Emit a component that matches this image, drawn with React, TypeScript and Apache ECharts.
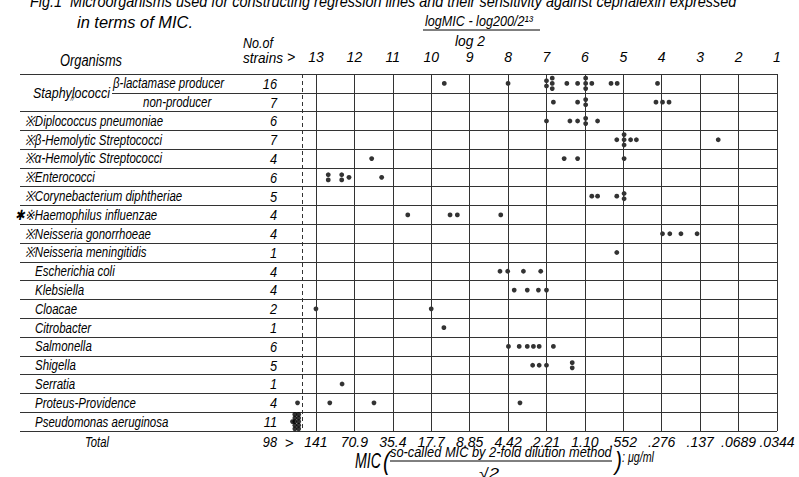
import React, { useEffect, useRef } from 'react';
import * as echarts from 'echarts';

const FONT = "'Liberation Sans', Arimo, sans-serif";
const INK = '#000';
const LINE = '#333';

// Row labels (top to bottom)
const organisms = [
  'β-lactamase producer',
  'non-producer',
  '※Diplococcus pneumoniae',
  '※β-Hemolytic Streptococci',
  '※α-Hemolytic Streptococci',
  '※Enterococci',
  '※Corynebacterium diphtheriae',
  '✱※Haemophilus influenzae',
  '※Neisseria gonorrhoeae',
  '※Neisseria meningitidis',
  'Escherichia coli',
  'Klebsiella',
  'Cloacae',
  'Citrobacter',
  'Salmonella',
  'Shigella',
  'Serratia',
  'Proteus-Providence',
  'Pseudomonas aeruginosa',
];
const strainCounts = [16, 7, 6, 7, 4, 6, 5, 4, 4, 1, 4, 4, 2, 1, 6, 5, 1, 4, 11];
const totalStrains = '98';

// x ticks ( (logMIC - log200/2^13) / log2 ) and MIC labels
const scaleTicks = [1, 2, 3, 4, 5, 6, 7, 8, 9, 10, 11, 12, 13];
const micLabels = ['.0344', '.0689', '.137', '.276', '.552', '1.10', '2.21', '4.42', '8.85', '17.7', '35.4', '70.9', '141'];
const greaterThanPos = 13.36;

// Dots per row: [value, number of strains at that value]
const staphBeta = [[9.66, 1], [8.0, 1], [7.0, 2], [6.85, 3], [6.47, 1], [6.19, 1], [5.98, 3], [5.82, 1], [5.32, 1], [5.16, 1], [4.11, 1]];
const staphNon = [[6.82, 1], [6.19, 1], [5.98, 2], [4.15, 1], [3.98, 1], [3.81, 1]];
const diplococcus = [[7.0, 1], [6.39, 1], [6.19, 1], [5.98, 2], [5.67, 1]];
const betaStrep = [[5.17, 1], [4.98, 3], [4.81, 1], [4.66, 1], [2.53, 1]];
const alphaStrep = [[11.55, 1], [6.54, 1], [6.19, 1], [4.98, 1]];
const enterococci = [[12.68, 2], [12.33, 2], [12.14, 1], [11.29, 1]];
const corynebacterium = [[5.82, 1], [5.67, 1], [5.17, 1], [4.98, 2]];
const haemophilus = [[10.61, 1], [9.51, 1], [9.32, 1], [8.19, 1]];
const gonorrhoeae = [[3.98, 1], [3.79, 1], [3.5, 1], [3.08, 1]];
const meningitidis = [[5.17, 1]];
const ecoli = [[8.21, 1], [8.01, 1], [7.6, 1], [7.15, 1]];
const klebsiella = [[7.84, 1], [7.5, 1], [7.21, 1], [7.0, 1]];
const cloacae = [[13.0, 1], [10.0, 1]];
const citrobacter = [[9.67, 1]];
const salmonella = [[7.99, 1], [7.71, 1], [7.5, 1], [7.34, 1], [7.19, 1], [6.82, 1]];
const shigella = [[7.36, 1], [7.19, 1], [7.0, 1], [6.33, 2]];
const serratia = [[12.32, 1]];
const proteus = [[13.48, 1], [12.64, 1], [11.49, 1], [7.69, 1]];
const pseudomonas = [[13.61, 1], [13.55, 5], [13.45, 5]];

const rowDots = [
  staphBeta, staphNon, diplococcus, betaStrep, alphaStrep, enterococci, corynebacterium,
  haemophilus, gonorrhoeae, meningitidis, ecoli, klebsiella, cloacae, citrobacter,
  salmonella, shigella, serratia, proteus, pseudomonas,
];

const GRID_LEFT = 20;
const GRID_RIGHT = 22;
const GRID_TOP = 74;
const GRID_BOTTOM = 46;
const UNIT_PX = 38.42;
const X_MAX = 1 + (799 - GRID_LEFT - GRID_RIGHT) / UNIT_PX;
const ROW_SCALE = 0.82;

function f(size: number) {
  return `italic ${size}px ${FONT}`;
}

let measureCtx: CanvasRenderingContext2D | null = null;
function fitScale(text: string, font: string, width: number) {
  if (!measureCtx) measureCtx = document.createElement('canvas').getContext('2d');
  if (!measureCtx) return 1;
  measureCtx.font = font;
  const w = measureCtx.measureText(text).width;
  return w > 0 ? width / w : 1;
}

function T(text: string, x: number, y: number, size: number, o: any = {}) {
  const font = f(size);
  const scaleX = o.width ? fitScale(text, font, o.width) : (o.scaleX ?? 0.85);
  return {
    type: 'text', x, y, scaleX, z: 100,
    style: {
      text, font, fill: INK,
      textAlign: o.align || 'left',
      textVerticalAlign: o.valign || 'middle',
    },
  };
}

export default function App() {
  const ref = useRef<HTMLDivElement>(null);

  useEffect(() => {
    if (!ref.current) return;
    const chart = echarts.init(ref.current, null, { renderer: 'svg' });

    const dotData: any[] = [];
    rowDots.forEach((row, r) => {
      row.forEach(([v, n]) => {
        const s = n >= 5 ? 3.6 : 5.2;
        for (let i = 0; i < n; i++) {
          dotData.push({ value: [v, r], symbolOffset: [0, (i - (n - 1) / 2) * s] });
        }
      });
    });

    const labelStyle = { color: INK, fontFamily: FONT, fontStyle: 'italic', fontSize: 14 };

    const option: any = {
      animation: false,
      grid: { left: GRID_LEFT, right: GRID_RIGHT, top: GRID_TOP, bottom: GRID_BOTTOM },
      xAxis: [
        {
          type: 'value', position: 'top', inverse: true, min: 1, max: X_MAX, interval: 1,
          axisLine: { show: false }, axisTick: { show: false }, splitLine: { show: false },
          axisLabel: {
            ...labelStyle, margin: 10, showMaxLabel: false, showMinLabel: true,
            formatter: (v: number) => (scaleTicks.includes(v) ? String(v) : ''),
          },
        },
        {
          type: 'value', position: 'bottom', inverse: true, min: 1, max: X_MAX, interval: 1,
          axisLine: { show: false }, axisTick: { show: false }, splitLine: { show: false },
          axisLabel: {
            ...labelStyle, fontSize: 14, margin: 4, showMaxLabel: false, showMinLabel: true,
            formatter: (v: number) => (scaleTicks.includes(v) ? micLabels[v - 1] : ''),
          },
        },
      ],
      yAxis: [
        {
          type: 'category', data: organisms, inverse: true,
          axisLine: { show: false }, axisTick: { show: false }, axisLabel: { show: false },
          splitLine: { show: true, lineStyle: { color: LINE, width: 1 } },
        },
      ],
      series: [
        {
          type: 'scatter', xAxisIndex: 0, yAxisIndex: 0,
          symbol: 'circle', symbolSize: 4.8,
          itemStyle: { color: INK },
          data: dotData,
          markLine: {
            silent: true, symbol: 'none', label: { show: false },
            lineStyle: { color: LINE, type: 'solid', width: 1 },
            data: [
              ...scaleTicks.map((t) => ({ xAxis: t })),
              { xAxis: greaterThanPos, lineStyle: { type: [4, 3], color: LINE, width: 1 } },
            ],
          },
        },
      ],
    };

    chart.setOption(option);

    // Row positions from the category axis
    const rowY = organisms.map((_, r) => (chart.convertToPixel({ seriesIndex: 0 }, [5, r]) as number[])[1]);
    const boundary01 = (rowY[0] + rowY[1]) / 2;

    const rowTexts: any[] = [];
    organisms.forEach((name, r) => {
      let x = 35;
      if (r === 0) x = 113;
      else if (r === 1) x = 143;
      else if (name.startsWith('✱')) x = 15;
      else if (name.startsWith('※')) x = 25;
      rowTexts.push(T(name, x, rowY[r], 14, { scaleX: ROW_SCALE }));
      rowTexts.push(T(String(strainCounts[r]), 277, rowY[r], 15, { align: 'right', scaleX: 0.85 }));
    });
    rowTexts.push(T('〃', 67, rowY[1] - 3, 9, { scaleX: 1 }));

    const graphics: any[] = [
      { type: 'rect', z: 90, shape: { x: GRID_LEFT - 2, y: boundary01 - 1.5, width: 112 - GRID_LEFT + 2, height: 3 }, style: { fill: '#fff' } },
      T('Staphylococci', 33, boundary01, 15, { width: 77 }),
      ...rowTexts,
      T('Fig.1  Microorganisms used for constructing regression lines and their sensitivity against cephalexin expressed', 30, 9, 16, { width: 707, valign: 'bottom' }),
      T('in terms of MIC.', 77, 22, 17, { width: 116 }),
      T('logMIC - log200/2¹³', 425, 21, 14, { width: 108 }),
      { type: 'line', z: 100, shape: { x1: 423, y1: 30, x2: 540, y2: 30 }, style: { stroke: INK, lineWidth: 1 } },
      T('log 2', 470, 41, 15, { width: 30, align: 'center' }),
      T('Organisms', 60, 60, 16, { width: 62 }),
      T('No.of', 243, 43, 14, { width: 30 }),
      T('strains', 243, 58, 14, { width: 40 }),
      T('>', 291, 57, 14, { scaleX: 1, align: 'center' }),
      T('Total', 85, 442, 15, { width: 24 }),
      T(totalStrains, 277, 442, 15, { align: 'right', scaleX: 0.85 }),
      T('>', 289, 442, 15, { scaleX: 1, align: 'center' }),
      T('MIC', 355, 460, 22, { width: 26 }),
      T('(', 383, 461, 26, { scaleX: 0.8 }),
      T('so-called MIC by 2-fold dilution method', 390, 452, 14, { width: 222 }),
      { type: 'line', z: 100, shape: { x1: 390, y1: 461, x2: 612, y2: 461 }, style: { stroke: INK, lineWidth: 1 } },
      T('√2', 479, 473, 14, { width: 20 }),
      T(')', 615, 461, 26, { scaleX: 0.8 }),
      T(': μg/ml', 622, 457, 15, { width: 32 }),
    ];

    chart.setOption({ graphic: graphics });
    return () => chart.dispose();
  }, []);

  return <div ref={ref} style={{ position: 'absolute', left: 0, top: 0, width: 799, height: 477, background: '#fff' }} />;
}
